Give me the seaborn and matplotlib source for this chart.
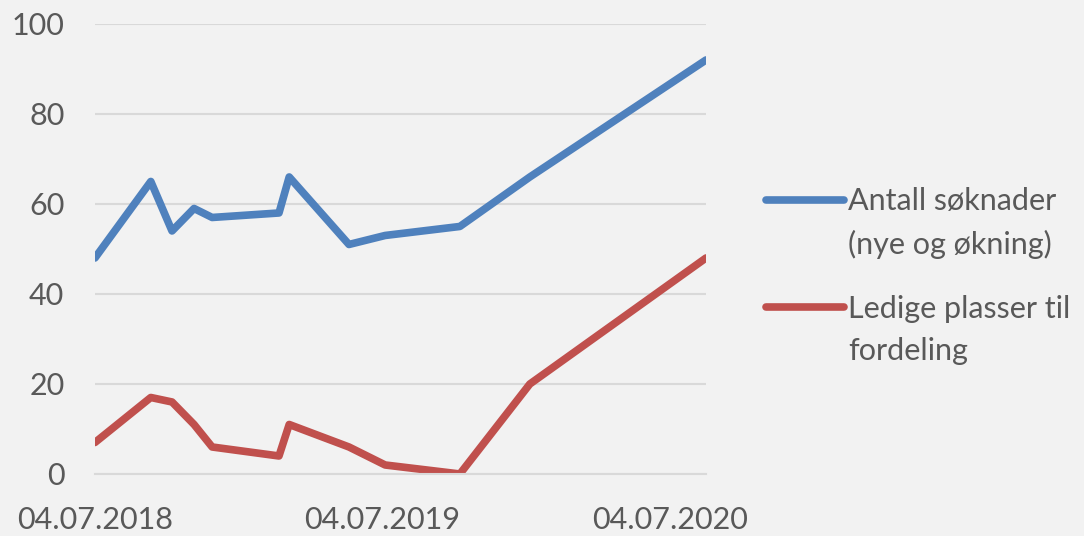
import pandas as pd
import numpy as np
import matplotlib
matplotlib.use("Agg")
import matplotlib.pyplot as plt
import matplotlib.dates as mdates
from matplotlib.legend_handler import HandlerLine2D
import seaborn as sns

# values
dates = ["2018-07-04", "2018-09-13", "2018-10-10", "2018-11-07", "2018-11-30",
         "2019-02-23", "2019-03-08", "2019-05-23", "2019-07-08", "2019-10-11",
         "2020-01-08", "2020-08-19"]
antall = [48, 65, 54, 59, 57, 58, 66, 51, 53, 55, 66, 92]
ledige = [7, 17, 16, 11, 6, 4, 11, 6, 2, 0, 20, 48]
series_names = ["Antall søknader\n(nye og økning)", "Ledige plasser til\nfordeling"]
series_colors = ["#4F81BD", "#C0504D"]
tick_dates = ["2018-07-04", "2019-07-04", "2020-07-04"]

df = pd.DataFrame({"dato": pd.to_datetime(dates), series_names[0]: antall, series_names[1]: ledige})
long = df.melt(id_vars="dato", var_name="serie", value_name="verdi")

sns.set_theme(style="white")
plt.rcParams["font.family"] = ["Lato", "DejaVu Sans"]
bg = "#F2F2F2"
txt = "#595959"


# legend line sits next to the first text line, like in Excel
class FirstLineHandler(HandlerLine2D):
    def create_artists(self, legend, orig_handle, xdescent, ydescent, width, height, fontsize, trans):
        arts = super().create_artists(legend, orig_handle, xdescent, ydescent, width, height, fontsize, trans)
        for a in arts:
            a.set_ydata(np.asarray(a.get_ydata()) + 17.3)
        return arts


fig = plt.figure(figsize=(10.84, 5.36), dpi=100, facecolor=bg)
ax = fig.add_axes([0.0876, 0.1157, 0.5637, 0.8396])
ax.set_facecolor(bg)

sns.lineplot(data=long, x="dato", y="verdi", hue="serie", palette=series_colors,
             linewidth=5.5, ax=ax, solid_capstyle="round", solid_joinstyle="round")

ax.set_xlim(pd.Timestamp(dates[0]), pd.Timestamp(dates[-1]))
ax.set_ylim(0, 100)
ax.set_yticks(np.arange(0, 101, 20))
ax.grid(axis="y", color="#D9D9D9", linewidth=1.5)
ax.set_axisbelow(True)

ax.set_xticks(pd.to_datetime(tick_dates))
ax.xaxis.set_major_formatter(mdates.DateFormatter("%d.%m.%Y"))
for s in ["top", "right", "left"]:
    ax.spines[s].set_visible(False)
ax.spines["bottom"].set_color("#D9D9D9")
ax.spines["bottom"].set_linewidth(1.5)
ax.tick_params(axis="x", direction="out", length=8, width=1.5, color="#D9D9D9",
               labelsize=22, labelcolor=txt, pad=15)
ax.tick_params(axis="y", length=0, labelsize=22, labelcolor=txt, pad=22)
ax.set_xlabel("")
ax.set_ylabel("")

handles, labels = ax.get_legend_handles_labels()
leg = ax.legend(handles, labels, loc="center left", bbox_to_anchor=(0.695, 0.485),
                bbox_transform=fig.transFigure, frameon=False, fontsize=22, labelcolor=txt,
                handlelength=2.55, handletextpad=0.15, labelspacing=1.15, borderaxespad=0,
                handler_map={h: FirstLineHandler() for h in handles})
for t in leg.get_texts():
    t.set_linespacing(1.65)

fig.savefig("out.png", dpi=100, facecolor=bg)
